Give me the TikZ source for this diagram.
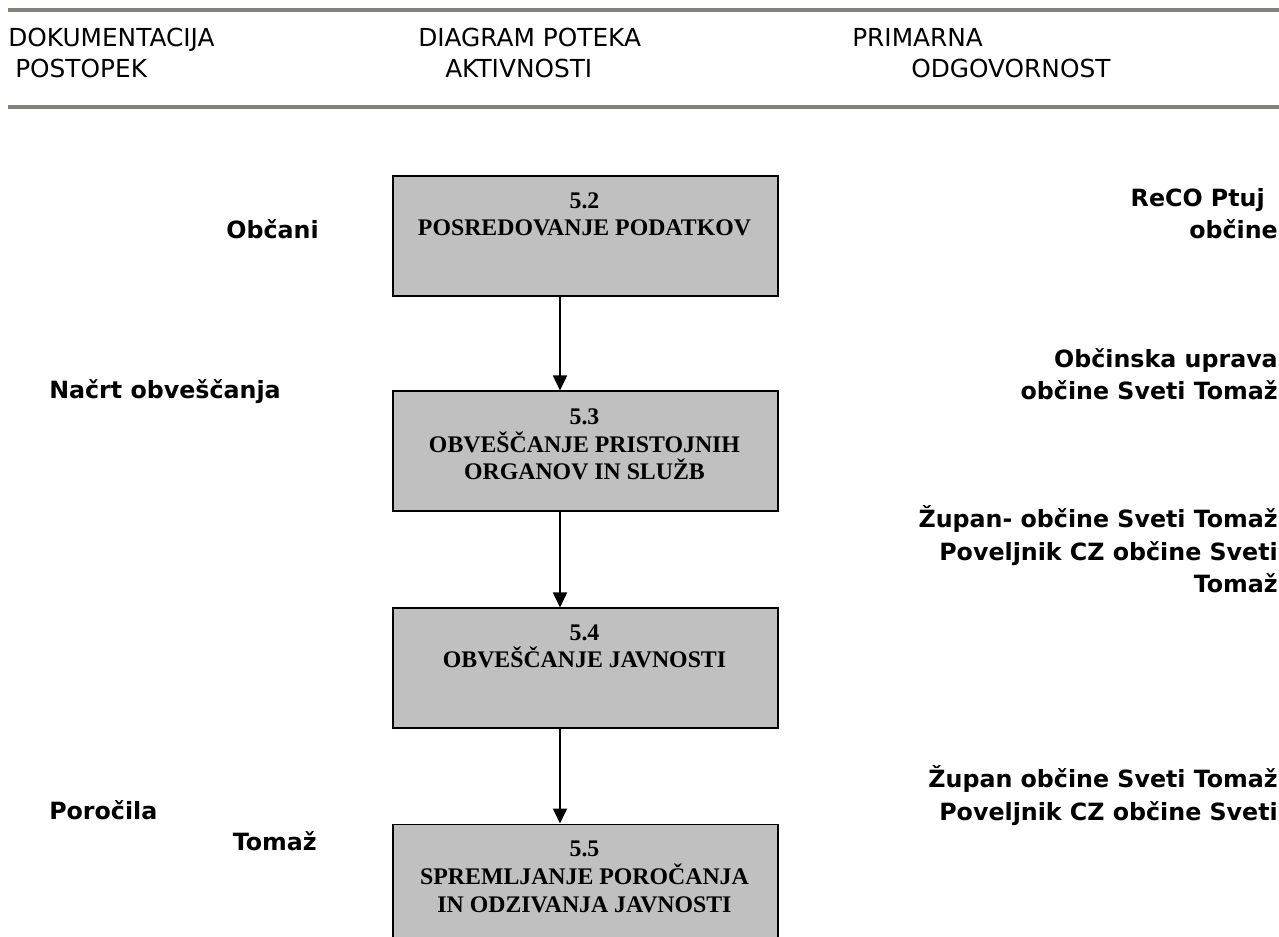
\documentclass[tikz,border=0pt]{standalone}
\usepackage{fontspec}
\setmainfont{DejaVu Sans}
\newfontfamily\boxfont{Liberation Serif}
\usetikzlibrary{arrows.meta}
\definecolor{rulegray}{RGB}{130,130,122}
\definecolor{boxgray}{RGB}{192,192,192}
\begin{document}
\begin{tikzpicture}[x=0.75pt,y=-0.75pt,
  hdr/.style={anchor=base west, inner sep=0, font=\fontsize{18.6}{22}\selectfont},
  lbl/.style={inner sep=0, font=\fontsize{17.8}{24.5}\selectfont\bfseries},
  stepbox/.style={draw=black, line width=1.2pt, fill=boxgray, inner sep=0,
     minimum width=288.75pt, minimum height=90pt, anchor=north west},
  boxtxt/.style={anchor=base, inner sep=0, align=center,
     font=\fontsize{17.85}{20.7}\selectfont\boxfont\bfseries},
  arr/.style={line width=1.1pt, -{Triangle[length=11.25pt,width=10.5pt]}},
  rule/.style={draw=rulegray, line width=3pt}]

\useasboundingbox (0,0) rectangle (1279,937);
\fill[white] (0,0) rectangle (1279,937);
\clip (0,0) rectangle (1279,937);

% header rules
\draw[rule] (8,10) -- (1279,10);
\draw[rule] (8,107) -- (1279,107);

% header texts
\node[hdr] (h1) at (8,46.5) {DOKUMENTACIJA};
\node[hdr] (h2) at (15,78) {POSTOPEK};
\node[hdr] (h3) at (418,46.5) {DIAGRAM POTEKA};
\node[hdr] (h4) at (445,78) {AKTIVNOSTI};
\node[hdr] (h5) at (852,46.5) {PRIMARNA};
\node[hdr] (h6) at (911,78) {ODGOVORNOST};

% boxes
\node[stepbox] (b1) at (392,175.5) {};
\node[stepbox] (b2) at (392,390.5) {};
\node[stepbox] (b3) at (392,607.5) {};
\node[stepbox] (b4) at (392,823.5) {};

% box texts (anchored at the baseline of the last line)
\node[boxtxt] (t1) at (584.5,236) {5.2\\POSREDOVANJE PODATKOV};
\node[boxtxt] (t2) at (584.5,480) {5.3\\OBVEŠČANJE PRISTOJNIH\\ORGANOV IN SLUŽB};
\node[boxtxt] (t3) at (584.5,668) {5.4\\OBVEŠČANJE JAVNOSTI};
\node[boxtxt] (t4) at (584.5,912) {5.5\\SPREMLJANJE POROČANJA\\IN ODZIVANJA JAVNOSTI};

% arrows
\coordinate (ax) at (560,0);
\draw[arr] (b1.south -| ax) -- (b2.north -| ax);
\draw[arr] (b2.south -| ax) -- (b3.north -| ax);
\draw[arr] (b3.south -| ax) -- (b4.north -| ax);

% left labels
\node[lbl, anchor=base east] (l1) at (319,239) {Občani};
\node[lbl, anchor=base west] (l2) at (49,399) {Načrt obveščanja};
\node[lbl, anchor=base west] (l3) at (49,819) {Poročila};
\node[lbl, anchor=base east] (l4) at (317,850) {Tomaž};

% right labels (anchored at the baseline of the last line)
\node[lbl, anchor=base east, align=right] (r1) at (1278,239) {ReCO Ptuj\kern9.75pt\\občine};
\node[lbl, anchor=base east, align=right] (r2) at (1278,400) {Občinska uprava\\občine Sveti Tomaž};
\node[lbl, anchor=base east, align=right] (r3) at (1278,593) {Župan- občine Sveti Tomaž\\Poveljnik CZ občine Sveti\\Tomaž};
\node[lbl, anchor=base east, align=right] (r4) at (1278,820) {Župan občine Sveti Tomaž\\Poveljnik CZ občine Sveti};
\end{tikzpicture}
\end{document}
